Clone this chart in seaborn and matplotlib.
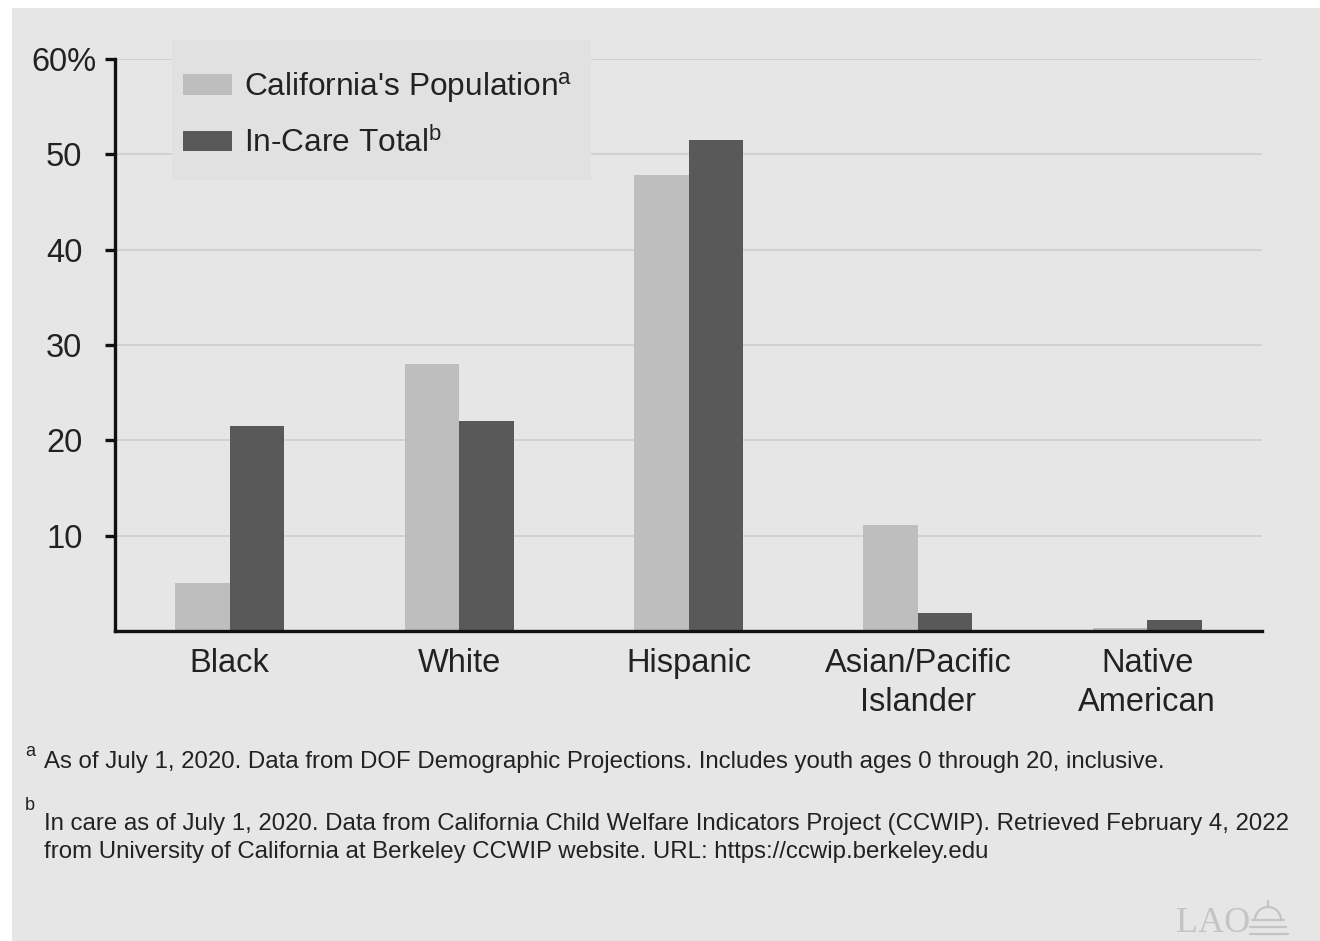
import matplotlib
matplotlib.use("Agg")
import matplotlib.pyplot as plt
from matplotlib.patches import Rectangle, Arc
import pandas as pd
import seaborn as sns

# Share of youth by race/ethnicity (percent)
groups = ["Black", "White", "Hispanic", "Asian/Pacific\nIslander", "Native\nAmerican"]
population = [5.0, 28.0, 47.8, 11.1, 0.3]
in_care = [21.5, 22.0, 51.5, 1.9, 1.2]
series_names = ["California's Population$^{\\mathregular{a}}$", "In-Care Total$^{\\mathregular{b}}$"]
series_colors = ["#bebebe", "#595959"]
yticks = [10, 20, 30, 40, 50, 60]
ytick_labels = ["10", "20", "30", "40", "50", "60%"]

footnote_a = "As of July 1, 2020. Data from DOF Demographic Projections. Includes youth ages 0 through 20, inclusive."
footnote_b = ("In care as of July 1, 2020. Data from California Child Welfare Indicators Project (CCWIP). Retrieved February 4, 2022\n"
              "from University of California at Berkeley CCWIP website. URL: https://ccwip.berkeley.edu")

df = pd.DataFrame({
    "group": groups * 2,
    "series": [series_names[0]] * len(groups) + [series_names[1]] * len(groups),
    "value": population + in_care,
})

sns.set_theme(style="white")
plt.rcParams["font.family"] = ["Liberation Sans", "DejaVu Sans"]
plt.rcParams["mathtext.fontset"] = "custom"
plt.rcParams["mathtext.rm"] = "Liberation Sans"
plt.rcParams["mathtext.it"] = "Liberation Sans"

TEXT = "#222222"
W, H, DPI = 1320, 941, 100
fig = plt.figure(figsize=(W / DPI, H / DPI), dpi=DPI, facecolor="white")

# grey panel behind everything
fig.patches.append(Rectangle((12 / W, -0.01), 1.1, 1.01 - 8 / H, transform=fig.transFigure,
                             facecolor="#e6e6e6", edgecolor="none", zorder=-10))

ax = fig.add_axes([115 / W, 1 - 631 / H, (1262 - 115) / W, (631 - 59) / H])
ax.set_facecolor("none")

sns.barplot(data=df, x="group", y="value", hue="series", order=groups,
            hue_order=series_names, palette=dict(zip(series_names, series_colors)),
            width=0.476, gap=0, saturation=1, linewidth=0, ax=ax, zorder=3)

ax.set_xlim(-0.5, 4.5)
ax.set_ylim(0, 60)
ax.set_yticks(yticks)
ax.set_yticklabels(ytick_labels)
ax.set_xlabel("")
ax.set_ylabel("")

ax.yaxis.grid(True, color="#cdcdcd", linewidth=1.2, zorder=0)
ax.set_axisbelow(True)

for side in ["top", "right"]:
    ax.spines[side].set_visible(False)
for side in ["left", "bottom"]:
    ax.spines[side].set_color("#111111")
    ax.spines[side].set_linewidth(2.4)
    ax.spines[side].set_zorder(5)

ax.tick_params(axis="y", which="major", length=7.5, width=2.4, color="#111111",
               direction="out", left=True, labelsize=23.5, labelcolor=TEXT, pad=29)
for lbl in ax.get_yticklabels():
    lbl.set_horizontalalignment("center")
ax.tick_params(axis="x", length=0, labelsize=23.5, labelcolor=TEXT, pad=12)
for lbl in ax.get_xticklabels():
    lbl.set_linespacing(1.33)

# legend on its own shaded box
handles, labels = ax.get_legend_handles_labels()
ax.get_legend().remove()
ax.add_patch(Rectangle((172 / W, 1 - 180 / H), (591 - 172) / W, 140 / H,
                       transform=fig.transFigure, clip_on=False,
                       facecolor="#e1e1e1", edgecolor="none", zorder=2))
leg = fig.legend(handles, labels, loc="upper left", bbox_to_anchor=(183 / W, 1 - 70 / H),
                 frameon=False, fontsize=22.8, handlelength=1.55, handleheight=0.63,
                 handletextpad=0.38, labelspacing=0.7, borderpad=0, borderaxespad=0)
for t in leg.get_texts():
    t.set_color(TEXT)
leg.set_zorder(10)

# footnotes
fs = 17.3
fig.text(25 / W, 1 - 751 / H, "a", fontsize=13, color=TEXT, va="center", ha="left")
fig.text(44 / W, 1 - 762 / H, footnote_a, fontsize=fs, color=TEXT, va="center", ha="left")
fig.text(25 / W, 1 - 805 / H, "b", fontsize=13, color=TEXT, va="center", ha="left")
fig.text(44 / W, 1 - 838 / H, footnote_b, fontsize=fs, color=TEXT, va="center", ha="left",
         linespacing=1.35)

# organisation mark: "LAO" with a small capitol dome
MARK = "#c4c4c4"
fig.text(1250 / W, 1 - 923 / H, "LAO", fontsize=26, color=MARK, va="center", ha="right",
         family=["Liberation Serif", "DejaVu Serif"])
for y0, x0, x1 in [(920, 1252, 1284), (927, 1250, 1286), (934, 1250, 1288)]:
    fig.add_artist(plt.Line2D([x0 / W, x1 / W], [1 - y0 / H, 1 - y0 / H],
                              color=MARK, linewidth=1.6))
fig.add_artist(Arc((1268 / W, 1 - 920 / H), 26 / W, 26 / H, theta1=0, theta2=180,
                   transform=fig.transFigure, color=MARK, linewidth=1.6))
fig.add_artist(plt.Line2D([1268 / W, 1268 / W], [1 - 907 / H, 1 - 901 / H],
                          color=MARK, linewidth=1.6))

fig.savefig("out.png", dpi=DPI, facecolor="white")
